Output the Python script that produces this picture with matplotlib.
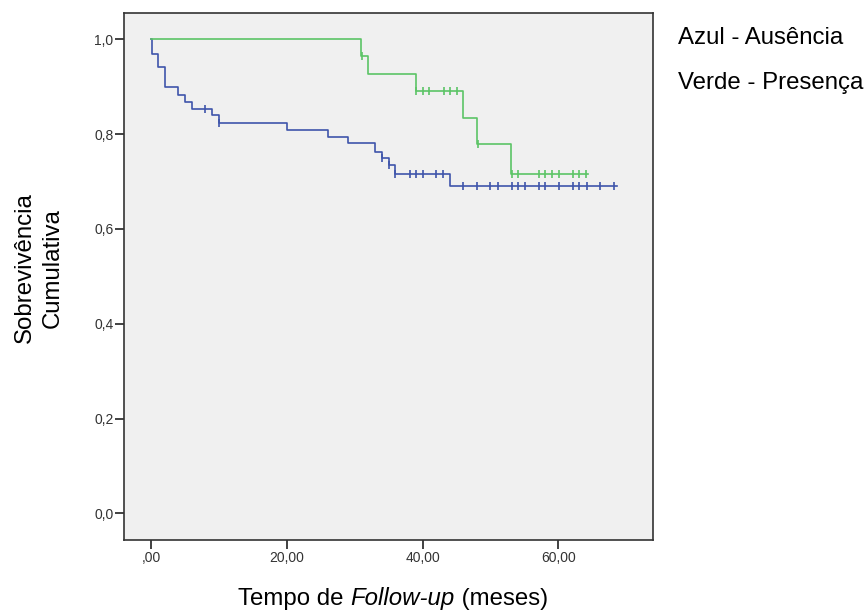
import numpy as np
import matplotlib
matplotlib.use("Agg")
import matplotlib.pyplot as plt

plt.rcParams['font.family'] = ['Liberation Sans', 'DejaVu Sans']

# Azul - Ausência (event times in months and survival after each event)
blue_event_t = [0.1, 1, 2, 4, 5, 6, 9, 10, 20, 26, 29, 33, 34, 35, 36, 44]
blue_surv = [0.970, 0.942, 0.899, 0.882, 0.868, 0.852, 0.840, 0.824, 0.809,
             0.793, 0.781, 0.763, 0.749, 0.735, 0.715, 0.691]
blue_end = 68.6
blue_censor = [8.0, 10.0, 34.0, 35.0, 36.0, 38.1, 39.1, 40.0, 42.0, 43.0,
               46.0, 48.0, 50.0, 51.1, 53.2, 54.0, 55.1, 57.2, 58.1, 60.1,
               62.1, 63.1, 64.2, 66.2, 68.2]

# Verde - Presença
green_event_t = [31, 32, 39, 46, 48, 53]
green_surv = [0.965, 0.927, 0.891, 0.835, 0.779, 0.715]
green_end = 64.4
green_censor = [31.1, 39.1, 40.0, 41.0, 43.1, 44.1, 45.1, 48.1, 53.2, 54.1,
                57.1, 58.1, 59.1, 60.1, 62.1, 63.1, 64.1]

x_ticks = [0, 20, 40, 60]
x_tick_labels = [",00", "20,00", "40,00", "60,00"]
y_ticks = [0.0, 0.2, 0.4, 0.6, 0.8, 1.0]
y_tick_labels = ["0,0", "0,2", "0,4", "0,6", "0,8", "1,0"]


def km_curve(event_t, surv, end):
    t = np.concatenate([[0.0], event_t, [end]])
    s = np.concatenate([[1.0], surv, [surv[-1]]])
    return t, s


def surv_at(times, event_t, surv):
    s = np.concatenate([[1.0], surv])
    idx = np.searchsorted(event_t, times, side="right")
    return s[idx]


fig = plt.figure(figsize=(8.68, 6.13), dpi=100)
W, H = 868, 613
left, right, top, bottom = 124.3, 652.7, 13, 539.5
ax = fig.add_axes([left / W, 1 - bottom / H, (right - left) / W, (bottom - top) / H])
ax.set_facecolor("#f0f0f0")

blue = "#3f55ab"
green = "#5cc466"

for ev, sv, end, cens, col in [(blue_event_t, blue_surv, blue_end, blue_censor, blue),
                               (green_event_t, green_surv, green_end, green_censor, green)]:
    t, s = km_curve(ev, sv, end)
    ax.step(t, s, where="post", color=col, lw=1.2)
    cy = surv_at(np.array(cens), np.array(ev), np.array(sv))
    ax.plot(cens, cy, ls="none", marker="|", ms=6, mew=1.2, color=col)

ax.set_xlim(-3.94, 73.9)
ax.set_ylim(-0.055, 1.0555)
ax.set_xticks(x_ticks)
ax.set_xticklabels(x_tick_labels)
ax.set_yticks(y_ticks)
ax.set_yticklabels(y_tick_labels)
ax.tick_params(axis="both", direction="out", length=6.3, width=1.3,
               color="#333333", labelsize=10, labelcolor="#333333")
ax.tick_params(axis="x", pad=2)
ax.tick_params(axis="y", pad=1.5)
for sp in ax.spines.values():
    sp.set_color("#333333")
    sp.set_linewidth(1.2)

# x label in three pieces so that "Follow-up" is italic in the same font
fs = 17.3
parts = [("Tempo de ", "normal"), ("Follow-up", "italic"), (" (meses)", "normal")]
fig.canvas.draw()
renderer = fig.canvas.get_renderer()
texts = []
for s, style in parts:
    texts.append(fig.text(0, 1 - 599 / H, s, ha="left", va="center",
                          fontsize=fs, style=style))
widths = [t.get_window_extent(renderer).width for t in texts]
total = sum(widths)
x0 = 393 - total / 2
for t, w in zip(texts, widths):
    t.set_x(x0 / W)
    x0 += w

fig.text(25 / W, 1 - 268 / H, "Sobrevivência", rotation=90,
         ha="center", va="center", fontsize=fs)
fig.text(53 / W, 1 - 268 / H, "Cumulativa", rotation=90,
         ha="center", va="center", fontsize=fs)
fig.text(678 / W, 1 - 38 / H, "Azul - Ausência", ha="left", va="center", fontsize=fs)
fig.text(678 / W, 1 - 83 / H, "Verde - Presença", ha="left", va="center", fontsize=fs)

fig.savefig("out.png", dpi=100)
